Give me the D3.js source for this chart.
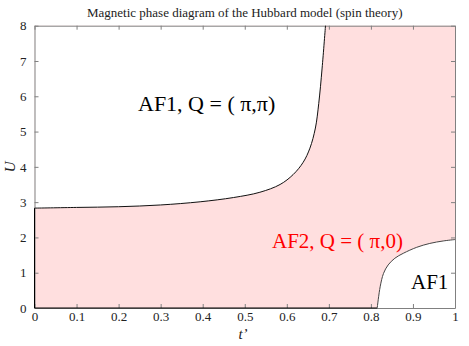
<!DOCTYPE html>
<html>
<head>
<meta charset="utf-8">
<script src="https://cdn.jsdelivr.net/npm/d3@7"></script>
<style>
  body { margin: 0; background: #fff; }
  svg { display: block; font-family: "Liberation Serif", "Times New Roman", serif; }
  .tick text { font-family: "Liberation Serif", "Times New Roman", serif; }
</style>
</head>
<body>
<svg id="chart" width="469" height="346"></svg>
<script>
// *** Data ***
var upperT = [0, 0.1, 0.2, 0.3, 0.394, 0.473, 0.536, 0.584, 0.615, 0.639, 0.655, 0.668, 0.676, 0.684, 0.692];
var upperU = [2.83, 2.85, 2.87, 2.92, 3.01, 3.13, 3.28, 3.50, 3.78, 4.13, 4.53, 5.1, 5.8, 6.8, 8];
var lowerT = [0.815, 0.822, 0.830, 0.841, 0.857, 0.877, 0.909, 0.94, 0.972, 1.0];
var lowerU = [0, 0.60, 0.98, 1.22, 1.41, 1.55, 1.72, 1.83, 1.90, 1.94];
var xTicks = [0, 0.1, 0.2, 0.3, 0.4, 0.5, 0.6, 0.7, 0.8, 0.9, 1];
var yTicks = [0, 1, 2, 3, 4, 5, 6, 7, 8];
var phaseLabels = ["AF1, Q = ( \u03c0,\u03c0)", "AF2, Q = ( \u03c0,0)", "AF1"];

// *** Sizes *** ('top' is taken by window, so use a margin object)
var m = { left: 34.5, right: 455, top: 25.7, bottom: 308 }, tickLen = 4;
var axisColor = "#808080", pink = "#ffdfdf";

var svg = d3.select("#chart");

var x = d3.scaleLinear().domain([0, 1]).range([m.left, m.right]);
var y = d3.scaleLinear().domain([0, 8]).range([m.bottom, m.top]);

var upper = upperT.map(function (t, i) { return [t, upperU[i]]; });
var lower = lowerT.map(function (t, i) { return [t, lowerU[i]]; });

var smooth = d3.curveCatmullRom.alpha(0.5);

// pink background for the AF2 phase
svg.append("rect")
    .attr("x", x(0)).attr("y", y(8))
    .attr("width", x(1) - x(0)).attr("height", y(0) - y(8))
    .attr("fill", pink);

// white AF1 regions cut out of it
var upperArea = d3.area()
    .x(function (d) { return x(d[0]); })
    .y0(function (d) { return y(d[1]); })
    .y1(y(8))
    .curve(smooth);
svg.append("path").attr("d", upperArea(upper)).attr("fill", "#fff");

var lowerArea = d3.area()
    .x(function (d) { return x(d[0]); })
    .y0(y(0))
    .y1(function (d) { return y(d[1]); })
    .curve(smooth);
svg.append("path").attr("d", lowerArea(lower)).attr("fill", "#fff");

// *** Axes (box with inward ticks) ***
var xb = d3.axisBottom(x).tickValues(xTicks).tickSizeInner(-tickLen).tickSizeOuter(0)
    .tickFormat(function (d) { return String(+d.toFixed(1)); }).tickPadding(4);
var xt = d3.axisTop(x).tickValues(xTicks).tickSizeInner(-tickLen).tickSizeOuter(0).tickFormat("");
var yl = d3.axisLeft(y).tickValues(yTicks).tickSizeInner(-tickLen).tickSizeOuter(0).tickPadding(8);
var yr = d3.axisRight(y).tickValues(yTicks).tickSizeInner(-tickLen).tickSizeOuter(0).tickFormat("");

function styleAxis(g) {
    g.attr("font-family", null).attr("font-size", 13);
    g.select(".domain").attr("stroke", axisColor);
    g.selectAll(".tick line").attr("stroke", axisColor);
    g.selectAll(".tick text").attr("fill", "#222");
}

svg.append("g").attr("transform", "translate(0," + m.bottom + ")").call(xb).call(styleAxis);
svg.append("g").attr("transform", "translate(0," + m.top + ")").call(xt).call(styleAxis);
svg.append("g").attr("transform", "translate(" + m.left + ",0)").call(yl).call(styleAxis);
svg.append("g").attr("transform", "translate(" + m.right + ",0)").call(yr).call(styleAxis);

// patch edge along the axes
svg.append("path")
    .attr("d", d3.line()([[x(0), y(upperU[0])], [x(0), y(0)], [x(lowerT[0]), y(0)]]))
    .attr("fill", "none").attr("stroke", "#000").attr("stroke-width", 1);

// *** Phase boundaries ***
var line = d3.line()
    .x(function (d) { return x(d[0]); })
    .y(function (d) { return y(d[1]); })
    .curve(smooth);

svg.append("path").attr("d", line(upper))
    .attr("fill", "none").attr("stroke", "#111").attr("stroke-width", 1);
svg.append("path").attr("d", line(lower))
    .attr("fill", "none").attr("stroke", "#444").attr("stroke-width", 1);

// *** Phase labels ***
svg.append("text").attr("x", 138).attr("y", 110.5)
    .style("font-size", "22px").attr("fill", "#000").text(phaseLabels[0]);
svg.append("text").attr("x", 272).attr("y", 247.5)
    .style("font-size", "21px").attr("fill", "#ff0000").text(phaseLabels[1]);
svg.append("text").attr("x", 411).attr("y", 288.5)
    .style("font-size", "21px").attr("fill", "#000").text(phaseLabels[2]);

// *** Title and axis labels ***
svg.append("text").attr("x", (m.left + m.right) / 2).attr("y", 17)
    .attr("text-anchor", "middle").style("font-size", "13px").attr("fill", "#222")
    .text("Magnetic phase diagram of the Hubbard model (spin theory)");

svg.append("text").attr("x", 243).attr("y", 339)
    .attr("text-anchor", "middle").style("font-size", "15px").style("font-style", "italic")
    .attr("fill", "#222").text("t\u2019");

svg.append("text").attr("transform", "translate(15," + ((m.top + m.bottom) / 2) + ") rotate(-90)")
    .attr("text-anchor", "middle").style("font-size", "15px").style("font-style", "italic")
    .attr("fill", "#222").text("U");
</script>
</body>
</html>
